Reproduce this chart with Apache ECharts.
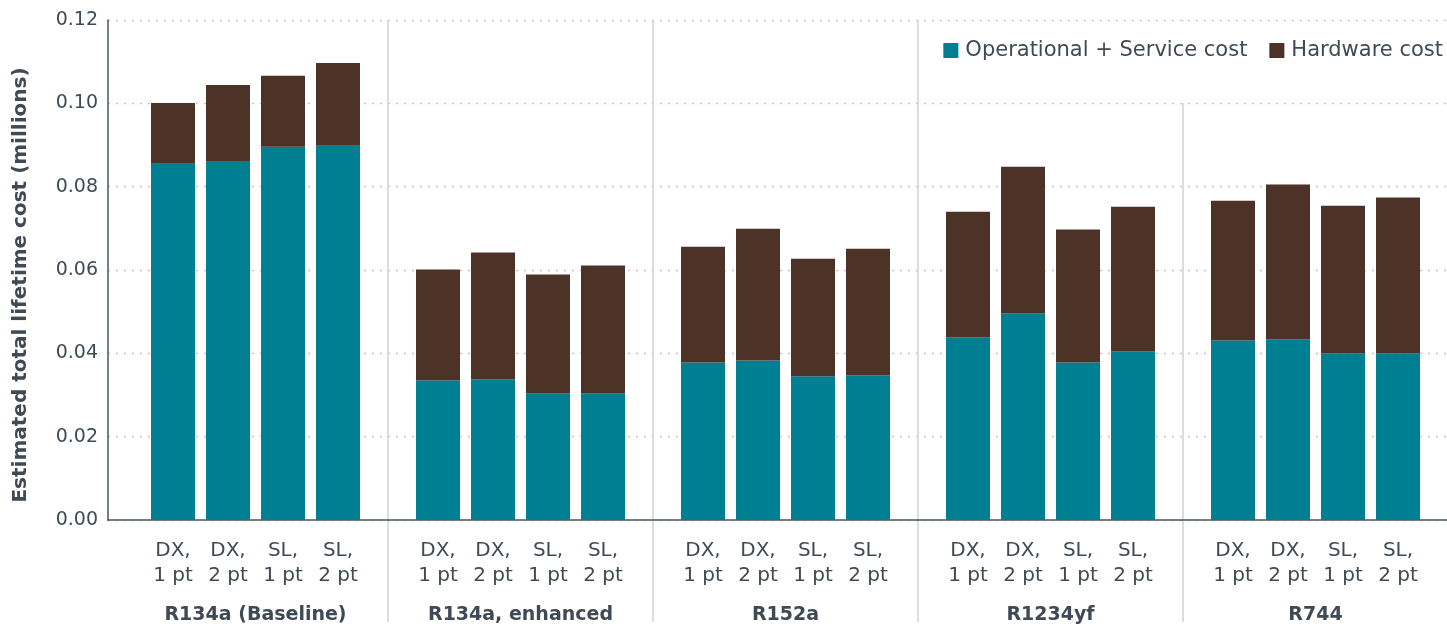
<!DOCTYPE html>
<html>
<head>
<meta charset="utf-8">
<script src="https://cdn.jsdelivr.net/npm/echarts@6/dist/echarts.min.js"></script>
<style>
  html, body { margin: 0; padding: 0; background: #fff; }
  #main { width: 1447px; height: 626px; }
</style>
</head>
<body>
<div id="main"></div>
<script>
// refrigerant groups and the 4 system configs inside each group
const groups = ['R134a (Baseline)', 'R134a, enhanced', 'R152a', 'R1234yf', 'R744'];
const configs = ['DX,\n1 pt', 'DX,\n2 pt', 'SL,\n1 pt', 'SL,\n2 pt'];

// values in millions, 4 per group, in group order
const operational = [
  0.0855, 0.0860, 0.0896, 0.0898,
  0.0335, 0.0338, 0.0304, 0.0304,
  0.0378, 0.0383, 0.0345, 0.0347,
  0.0438, 0.0496, 0.0378, 0.0405,
  0.0431, 0.0434, 0.0400, 0.0400
];
const hardware = [
  0.0146, 0.0184, 0.0170, 0.0199,
  0.0266, 0.0304, 0.0285, 0.0307,
  0.0278, 0.0316, 0.0282, 0.0304,
  0.0302, 0.0352, 0.0319, 0.0347,
  0.0335, 0.0371, 0.0354, 0.0374
];

const yMin = 0, yMax = 0.12, yStep = 0.02;

const TEAL = '#007e92';
const BROWN = '#4d3228';
const TXT = '#3f4a55';
const FONT = 'DejaVu Sans';

// layout: each group gets an equal slot, bars sit in the middle of it
const slotLeft = 123, slotW = 265, barPad = 22.5;

let chart = echarts.init(document.getElementById('main'));

let grids = [
  // background: y axis, gridlines, x axis line
  { left: 108, top: 20, width: 1339, height: 500, outerBoundsMode: 'none' },
  // group separators
  { left: slotLeft, top: 20, width: slotW * groups.length, height: 602, outerBoundsMode: 'none' }
];
let xAxes = [
  { gridIndex: 0, type: 'value', min: 0, max: 1, axisLine: { show: true, lineStyle: { color: '#4a5560', width: 1.5 } },
    axisTick: { show: false }, axisLabel: { show: false }, splitLine: { show: false } },
  { gridIndex: 1, type: 'value', min: 0, max: slotW * groups.length, interval: slotW,
    axisLine: { show: false }, axisTick: { show: false }, axisLabel: { show: false },
    splitLine: { show: true, showMinLine: false, lineStyle: { color: '#d2d2d2', width: 1.5 } } }
];
let yAxes = [
  { gridIndex: 0, type: 'value', min: yMin, max: yMax, interval: yStep,
    name: 'Estimated total lifetime cost (millions)', nameLocation: 'middle', nameGap: 77,
    nameTextStyle: { fontFamily: FONT, fontSize: 20, fontWeight: 'bold', color: TXT, padding: [0, 30, 0, 0] },
    axisLine: { show: true, lineStyle: { color: '#4a5560', width: 1.5 } },
    axisTick: { show: false },
    axisLabel: { fontFamily: FONT, fontSize: 19, color: TXT, margin: 10, formatter: v => v.toFixed(2) },
    splitLine: { show: true, lineStyle: { color: '#c6c6c6', type: [2, 6], width: 1.3 } } },
  { gridIndex: 1, type: 'value', min: 0, max: 1, show: false }
];

let series = [];
groups.forEach((g, k) => {
  grids.push({ left: slotLeft + slotW * k + barPad, top: 20, width: slotW - 2 * barPad, height: 500, outerBoundsMode: 'none' });
  xAxes.push({
    gridIndex: k + 2, type: 'category', data: configs,
    axisLine: { show: false }, axisTick: { show: false },
    axisLabel: { fontFamily: FONT, fontSize: 20, color: TXT, lineHeight: 25, margin: 18, interval: 0 },
    name: g, nameLocation: 'middle', nameGap: 86,
    nameTextStyle: { fontFamily: FONT, fontSize: 19, fontWeight: 'bold', color: TXT }
  });
  yAxes.push({ gridIndex: k + 2, type: 'value', min: yMin, max: yMax, show: false });
  series.push({
    name: 'Operational + Service cost', type: 'bar', stack: 'g' + k,
    xAxisIndex: k + 2, yAxisIndex: k + 2, barCategoryGap: '20%',
    itemStyle: { color: TEAL },
    data: operational.slice(k * 4, k * 4 + 4)
  });
  series.push({
    name: 'Hardware cost', type: 'bar', stack: 'g' + k,
    xAxisIndex: k + 2, yAxisIndex: k + 2, barCategoryGap: '20%',
    itemStyle: { color: BROWN },
    data: hardware.slice(k * 4, k * 4 + 4)
  });
});

chart.setOption({
  animation: false,
  backgroundColor: '#fff',
  legend: {
    data: ['Operational + Service cost', 'Hardware cost'],
    right: 0, top: 21,
    padding: [19, 4, 42, 10],
    backgroundColor: '#fff',
    icon: 'rect', itemWidth: 15, itemHeight: 15, itemGap: 22,
    textStyle: { fontFamily: FONT, fontSize: 21, color: TXT, lineHeight: 20, padding: [0, 0, 0, 2] }
  },
  grid: grids,
  xAxis: xAxes,
  yAxis: yAxes,
  series: series
});
</script>
</body>
</html>
